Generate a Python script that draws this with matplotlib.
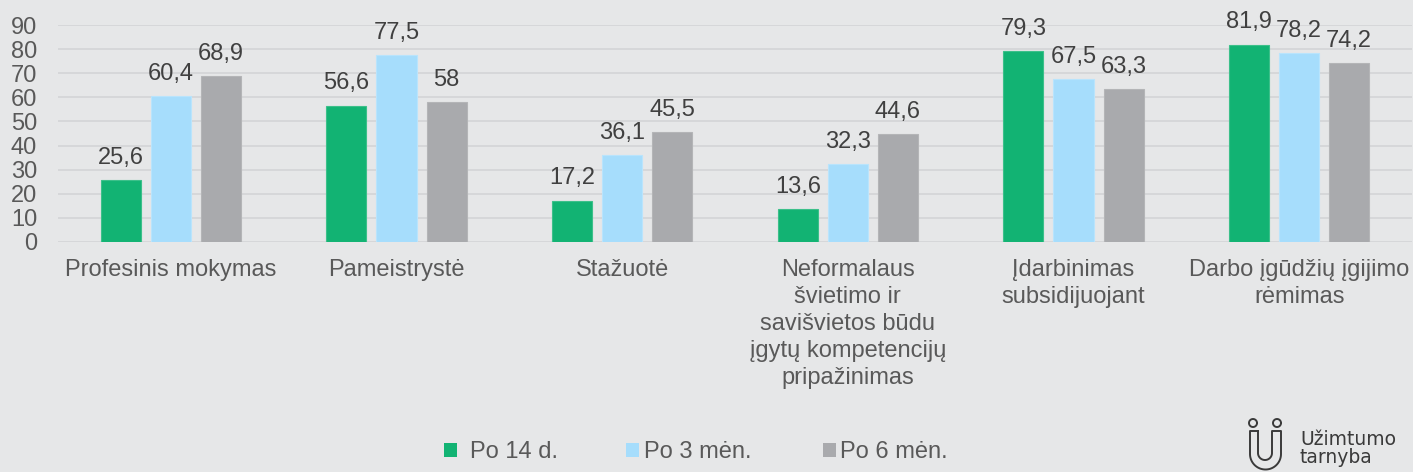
import matplotlib
matplotlib.use("Agg")
import matplotlib.pyplot as plt
import numpy as np
from matplotlib.lines import Line2D
from matplotlib.patches import Patch

categories = ["Profesinis mokymas", "Pameistrystė", "Stažuotė",
              "Neformalaus\nšvietimo ir\nsavišvietos būdu\nįgytų kompetencijų\npripažinimas",
              "Įdarbinimas\nsubsidijuojant", "Darbo įgūdžių įgijimo\nrėmimas"]
series_names = ["Po 14 d.", "Po 3 mėn.", "Po 6 mėn."]
po14 = [25.6, 56.6, 17.2, 13.6, 79.3, 81.9]
po3 = [60.4, 77.5, 36.1, 32.3, 67.5, 78.2]
po6 = [68.9, 58, 45.5, 44.6, 63.3, 74.2]
yticks = [0, 10, 20, 30, 40, 50, 60, 70, 80, 90]

colors = ["#12B373", "#A6DDFC", "#A9AAAD"]
edges = ["#3CC08A", "#B9E4FC", "#B4B5B7"]
bg = "#E6E7E8"
txt = "#595959"
lbl = "#404040"
FS = 17
W, H = 1413, 472

plt.rcParams['font.family'] = ['Liberation Sans', 'DejaVu Sans']

fig = plt.figure(figsize=(W/100, H/100), dpi=100, facecolor=bg)
ax = fig.add_axes([58/W, 1-242/H, 1354/W, 217/H])
ax.set_facecolor(bg)

x = np.arange(len(categories))
w = 40/225.6
step = 50/225.6
fmt = lambda v: (f"{v:g}").replace(".", ",")
for i, (vals, c, e) in enumerate(zip([po14, po3, po6], colors, edges)):
    xs = x + (i-1)*step
    ax.bar(xs, vals, width=w, color=c, edgecolor=e, linewidth=0.8, zorder=3)
    for xi, v in zip(xs, vals):
        ax.annotate(fmt(v), (xi, v), xytext=(0, 8), textcoords="offset points",
                    ha="center", va="bottom", fontsize=FS, color=lbl)

ax.set_xlim(-0.5, len(categories)-0.5)
ax.set_ylim(0, 90)
ax.set_yticks(yticks)
ax.set_yticklabels([str(t) for t in yticks], fontsize=FS, color=txt)
ax.yaxis.grid(True, color="#D3D4D6", linewidth=1.2, zorder=0)
ax.set_xticks(x)
ax.set_xticklabels(categories, fontsize=FS, color=txt, linespacing=1.3)
ax.tick_params(axis='both', length=0)
ax.tick_params(axis='y', pad=15)
ax.tick_params(axis='x', pad=12)
for s in ax.spines.values():
    s.set_visible(False)

# Legend: one entry per legend so each sits where Excel placed it
leg_x = [444/W, 626/W, 823/W]
leg_pad = [0.55, 0.25, 0.2]
for name, c, lx, tp in zip(series_names, colors, leg_x, leg_pad):
    fig.legend(handles=[Patch(facecolor=c, edgecolor="none", label=name)],
               loc="center left", bbox_to_anchor=(lx, 1-452/H), frameon=False,
               fontsize=FS, handlelength=0.53, handleheight=0.53, handletextpad=tp,
               borderpad=0, borderaxespad=0, labelcolor=txt)

# Logo
logo_c = "#3a3a3a"
fig.text(1300/W, 1-445/H, "Užimtumo", fontsize=13.5, color=logo_c,
         ha="left", va="baseline", family="DejaVu Sans")
fig.text(1300/W, 1-463/H, "tarnyba", fontsize=13.5, color=logo_c,
         ha="left", va="baseline", family="DejaVu Sans")

def px_line(xs, ys, lw=1.4):
    fig.lines.append(Line2D(np.asarray(xs)/W, 1-np.asarray(ys)/H, transform=fig.transFigure,
                            color=logo_c, linewidth=lw, solid_joinstyle="round",
                            solid_capstyle="round"))

tc = np.linspace(0, 2*np.pi, 60)
for cx in (1253, 1277):
    px_line(cx + 4*np.cos(tc), 423 + 4*np.sin(tc))
t = np.linspace(np.pi, 2*np.pi, 40)
R_o, cxo, cyo = 15.5, 1265.5, 454.0
R_i, cxi, cyi = 7.0, 1265.0, 453.0
pxs = ([1258, 1250, 1250] + list(cxo + R_o*np.cos(t)) + [1281, 1281, 1272, 1272]
       + list(cxi - R_i*np.cos(t)) + [1258, 1258])
pys = ([431, 431, cyo] + list(cyo - R_o*np.sin(t)) + [cyo, 431, 431, cyi]
       + list(cyi - R_i*np.sin(t)) + [cyi, 431])
px_line(pxs, pys)

fig.savefig("out.png", dpi=100, facecolor=bg)
